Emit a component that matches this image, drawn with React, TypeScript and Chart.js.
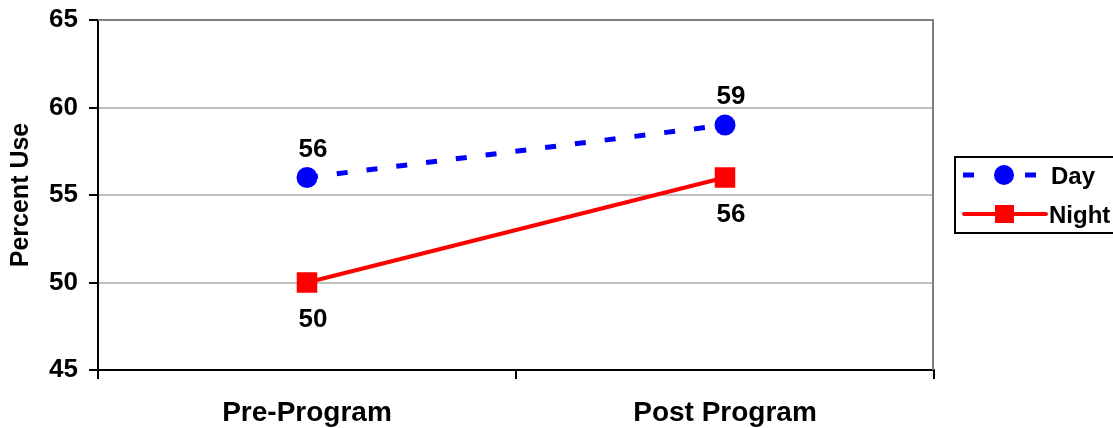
import React, { useEffect, useRef } from "react";
import { Chart, registerables } from "chart.js";

Chart.register(...registerables);

const categories = ["Pre-Program", "Post Program"];
const dayValues = [56, 59];
const nightValues = [50, 56];
const yTicks = [45, 50, 55, 60, 65];
const seriesNames = ["Day", "Night"];

const FONT = "'Liberation Sans', Arial, sans-serif";

const plotBorder = {
  id: "plotBorder",
  afterDraw(chart: any) {
    const { ctx, chartArea } = chart;
    ctx.save();
    ctx.strokeStyle = "#808080";
    ctx.lineWidth = 2;
    ctx.beginPath();
    ctx.moveTo(chartArea.left, chartArea.top);
    ctx.lineTo(chartArea.right - 1, chartArea.top);
    ctx.lineTo(chartArea.right - 1, chartArea.bottom);
    ctx.stroke();
    ctx.restore();
  },
};

const dataLabels = {
  id: "dataLabels",
  afterDatasetsDraw(chart: any) {
    const { ctx } = chart;
    ctx.save();
    ctx.font = `bold 26px ${FONT}`;
    ctx.fillStyle = "#000";
    ctx.textAlign = "center";
    ctx.textBaseline = "middle";
    chart.data.datasets.forEach((ds: any, i: number) => {
      const meta = chart.getDatasetMeta(i);
      meta.data.forEach((pt: any, j: number) => {
        const v = ds.data[j];
        const dy = i === 0 ? -28 : 37;
        ctx.fillText(String(v), pt.x + 6, pt.y + dy);
      });
    });
    ctx.restore();
  },
};

const customLegend = {
  id: "customLegend",
  afterDraw(chart: any) {
    const { ctx } = chart;
    const x0 = 955;
    const y0 = 157;
    const w = 170;
    const h = 76;
    ctx.save();
    ctx.strokeStyle = "#000";
    ctx.lineWidth = 2;
    ctx.strokeRect(x0, y0, w, h);
    // Day
    const yDay = y0 + 18;
    ctx.fillStyle = "#0000ff";
    ctx.fillRect(963, yDay - 2.5, 11, 5);
    ctx.fillRect(1025, yDay - 2.5, 11, 5);
    ctx.beginPath();
    ctx.arc(1004, yDay, 10, 0, Math.PI * 2);
    ctx.fill();
    // Night
    const yNight = y0 + 57;
    ctx.strokeStyle = "#ff0000";
    ctx.lineWidth = 4;
    ctx.lineCap = "round";
    ctx.beginPath();
    ctx.moveTo(964, yNight);
    ctx.lineTo(1046, yNight);
    ctx.stroke();
    ctx.fillStyle = "#ff0000";
    ctx.fillRect(995, yNight - 9, 19, 18);
    ctx.fillStyle = "#000";
    ctx.font = `bold 24px ${FONT}`;
    ctx.textAlign = "left";
    ctx.textBaseline = "middle";
    ctx.fillText(seriesNames[0], 1051, yDay + 2);
    ctx.fillText(seriesNames[1], 1049, yNight + 2);
    ctx.restore();
  },
};

export default function App() {
  const ref = useRef<HTMLCanvasElement>(null);
  useEffect(() => {
    document.body.style.margin = "0";
    const chart = new Chart(ref.current!, {
      type: "line",
      data: {
        labels: categories,
        datasets: [
          {
            label: seriesNames[0],
            data: dayValues,
            borderColor: "#0000ff",
            backgroundColor: "#0000ff",
            borderWidth: 5,
            borderDash: [11, 19],
            pointStyle: "circle",
            pointRadius: 10.5,
            pointBorderWidth: 0,
          },
          {
            label: seriesNames[1],
            data: nightValues,
            borderColor: "#ff0000",
            backgroundColor: "#ff0000",
            borderWidth: 4,
            pointStyle: "rect",
            pointRadius: 14.5,
            pointBorderWidth: 0,
          },
        ],
      },
      options: {
        animation: false,
        responsive: false,
        devicePixelRatio: 1,
        layout: { padding: { top: 20, right: 179, left: 0, bottom: 0 } },
        plugins: {
          legend: { display: false },
          tooltip: { enabled: false },
        },
        scales: {
          x: {
            type: "category",
            offset: true,
            grid: {
              offset: true,
              drawOnChartArea: false,
              drawTicks: true,
              tickLength: 9,
              tickColor: "#000",
              lineWidth: 2,
            },
            border: { color: "#000", width: 2 },
            ticks: {
              color: "#000",
              font: { family: FONT, size: 28, weight: "bold" },
              padding: 17,
              maxRotation: 0,
            },
            afterFit(scale: any) {
              scale.height = 58;
              scale.paddingLeft = 0;
              scale.paddingRight = 0;
            },
          },
          y: {
            min: 45,
            max: 65,
            afterBuildTicks(scale: any) {
              scale.ticks = yTicks.map((v) => ({ value: v }));
            },
            grid: {
              color: "#c0c0c0",
              lineWidth: 2,
              tickLength: 9,
              tickColor: "#000",
            },
            border: { color: "#000", width: 2 },
            ticks: {
              color: "#000",
              font: { family: FONT, size: 26, weight: "bold" },
              padding: 11,
            },
            title: {
              display: true,
              text: "Percent Use",
              color: "#000",
              font: { family: FONT, size: 25, weight: "bold" },
              padding: { top: 6, bottom: 0 },
            },
            afterFit(scale: any) {
              scale.width = 98;
              scale.paddingTop = 0;
              scale.paddingBottom = 0;
            },
          },
        },
      },
      plugins: [plotBorder, dataLabels, customLegend],
    });
    return () => chart.destroy();
  }, []);
  return (
    <div style={{ position: "fixed", left: 0, top: 0, width: 1113, height: 428 }}>
      <canvas ref={ref} width={1113} height={428} style={{ width: 1113, height: 428 }} />
    </div>
  );
}
